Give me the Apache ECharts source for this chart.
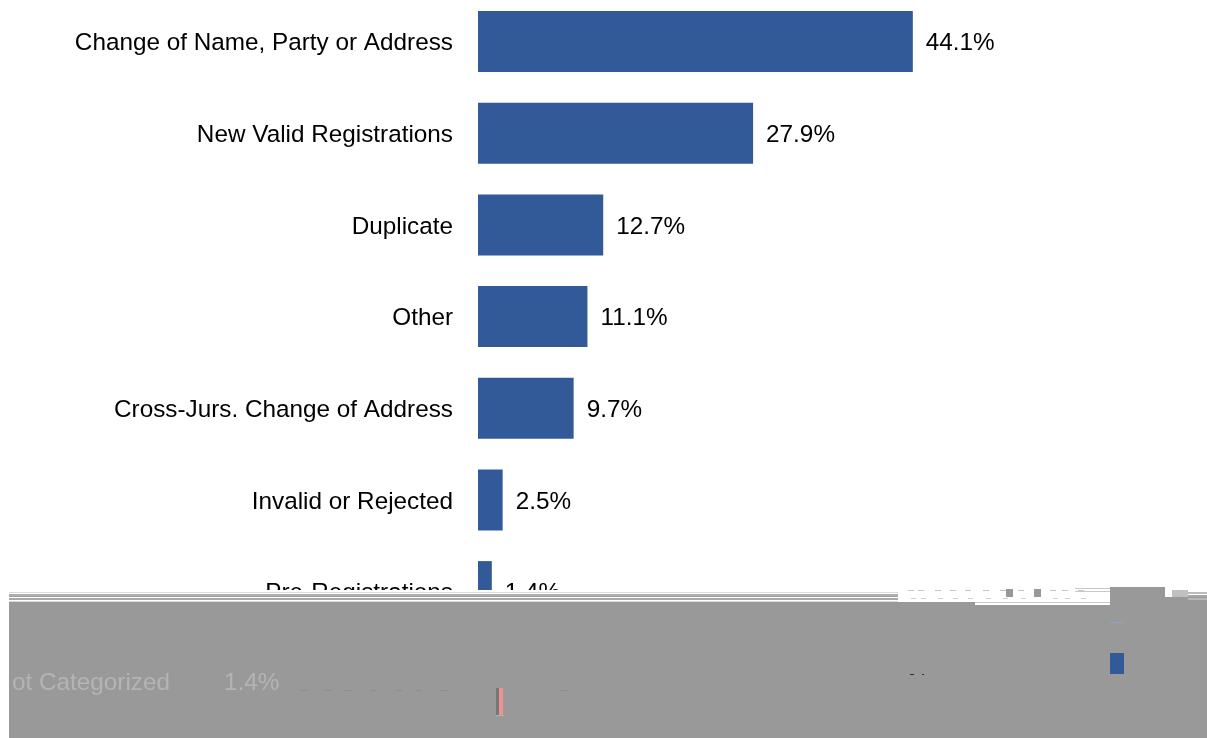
<!DOCTYPE html>
<html>
<head>
<meta charset="UTF-8">
<title>Registration categories</title>
<script src="https://cdn.jsdelivr.net/npm/echarts@6/dist/echarts.min.js"></script>
<style>
html,body{margin:0;padding:0;background:#fff;}
#box{width:1207px;height:738px;}
</style>
</head>
<body>
<div id="box"></div>
<script>
var categories=['Change of Name, Party or Address','New Valid Registrations','Duplicate','Other','Cross-Jurs. Change of Address','Invalid or Rejected','Pre-Registrations','Not Categorized'];
var values=[44.1,27.9,12.7,11.1,9.7,2.5,1.4,1.4];

var FONT='"Liberation Sans", Arial, sans-serif';
var BAND='#999999';

var chart=echarts.init(document.getElementById('box'));

//damaged lower part of the source image, laid over the chart
function box(x,y,w,h,fill){
  return {type:'rect',z:100,shape:{x:x,y:y,width:w,height:h},style:{fill:fill}};
}
function label(x,y,t,align){
  return {type:'text',z:101,x:x,y:y,style:{text:t,font:'24.3px '+FONT,fill:'#b4b4b4',textAlign:align,textVerticalAlign:'middle'}};
}

var damage=[
  box(0,590,1207,148,'#fff'),
  //stripes on the left
  box(9,592,889,1,'#dcdcdc'),
  box(9,594,889,2,'#b0b0b0'),
  box(9,596,889,1,'#a0a0a0'),
  box(9,598,889,2,'#a8a8a8'),
  box(9,601,889,1,'#d8d8d8'),
  //main band
  box(9,602,966,136,BAND),
  box(975,605,232,133,BAND),
  box(975,602,135,1,'#c8c8c8'),
  box(1110,587,55,18,BAND),
  box(1165,597,42,8,BAND),
  box(1172,590,16,7,'#c0c0c0'),
  box(1188,592,19,2,'#bcbcbc'),
  box(1188,595,19,2,'#a8a8a8'),
  box(1188,598,19,2,'#b8b8b8'),
  //scraps in the white part
  box(1006,589,7,8,BAND),
  box(1034,589,7,8,BAND),
  box(1075,588,35,1,'#c8c8c8'),
  box(1075,591,35,1,'#c8c8c8'),
  box(1110,622,14,1,'#8fa3c8'),
  box(1110,653,14,21,'#335a98'),
  box(496,688,3,27,'#777'),
  box(499,688,4,27,'#f09090'),
  box(496,715,8,1,'#a8b8a0'),
  box(910,674,4,1,'#333'),
  box(922,674,2,1,'#333'),
  label(170,683,'ot Categorized','right'),
  label(224,683,'1.4%','left')
];
//small broken text fragments along the top of the band
var scrapX=[908,918,935,950,965,983,1000,1018,1050,1062,1078];
for(var i=0;i<scrapX.length;i++){
  damage.push(box(scrapX[i],590,6,1,'#c4c4c4'));
  damage.push(box(scrapX[i]+3,598,5,1,'#d0d0d0'));
}
var specX=[300,325,345,370,395,415,440,560];
for(var j=0;j<specX.length;j++){
  damage.push(box(specX[j],690,7,1,'#8c8c94'));
}

chart.setOption({
  animation:false,
  grid:{left:478,top:-4.3,width:493,height:733.4,outerBoundsMode:'none'},
  xAxis:{type:'value',min:0,max:50,show:false},
  yAxis:{
    type:'category',
    inverse:true,
    data:categories,
    axisLine:{show:false},
    axisTick:{show:false},
    //top aligned with a short line box, moves the text 2px down from the row centre
    axisLabel:{margin:25,fontSize:24.3,fontFamily:FONT,color:'#000',verticalAlign:'top',lineHeight:4}
  },
  series:[{
    type:'bar',
    data:values,
    barWidth:61,
    itemStyle:{color:'#335a98'},
    label:{
      show:true,
      position:'right',
      distance:13,
      offset:[0,2],
      fontSize:24.3,
      fontFamily:FONT,
      color:'#000',
      formatter:function(p){return p.value.toFixed(1)+'%';}
    }
  }],
  graphic:damage
});
</script>
</body>
</html>
